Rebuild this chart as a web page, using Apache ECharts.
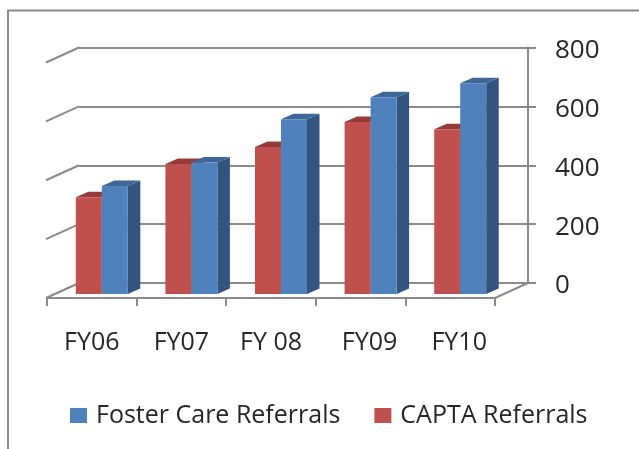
<!DOCTYPE html>
<html>
<head>
<meta charset="utf-8">
<title>Referrals</title>
<style>
  html, body { margin: 0; padding: 0; background: #fff; }
  #chart { width: 639px; height: 449px; }
</style>
<script src="https://cdn.jsdelivr.net/npm/echarts@6/dist/echarts.min.js"></script>
</head>
<body>
<div id="chart"></div>
<script>
const categories = ['FY06', 'FY07', 'FY 08', 'FY09', 'FY10']
const capta = [329, 442, 499, 584, 560]
const foster = [367, 447, 594, 668, 716]
const wallTicks = [0, 200, 400, 600, 800]

const FONT = '"Open Sans", sans-serif'
const TEXT = '#262626'
const LINE = '#8a8a8a'

// pixel offsets of the fake 3d look
const FLOOR_DX = -33
const FLOOR_DY = 15
const BAR_SHIFT_X = 10
const BAR_SHIFT_Y = -4
const BAR_DEPTH_X = 12.5
const BAR_DEPTH_Y = -5.5
const BAR_WIDTH = 26

function barRenderer(side, front, top, dark) {
  return function (params, api) {
    const base = api.coord([api.value(0), 0])
    const head = api.coord([api.value(0), api.value(1)])
    const x0 = base[0] + BAR_SHIFT_X + side * BAR_WIDTH
    const x1 = x0 + BAR_WIDTH
    const y0 = head[1] + BAR_SHIFT_Y
    const y1 = base[1] + BAR_SHIFT_Y
    return {
      type: 'group',
      children: [
        {
          type: 'polygon',
          shape: { points: [[x1, y0], [x1 + BAR_DEPTH_X, y0 + BAR_DEPTH_Y], [x1 + BAR_DEPTH_X, y1 + BAR_DEPTH_Y], [x1, y1]] },
          style: { fill: dark }
        },
        {
          type: 'polygon',
          shape: { points: [[x0, y0], [x0 + BAR_DEPTH_X, y0 + BAR_DEPTH_Y], [x1 + BAR_DEPTH_X, y0 + BAR_DEPTH_Y], [x1, y0]] },
          style: { fill: top }
        },
        {
          type: 'rect',
          shape: { x: x0, y: y0, width: BAR_WIDTH, height: y1 - y0 },
          style: { fill: front }
        }
      ]
    }
  }
}

// diagonal lines on the left wall and the right edge of the floor
function wallRenderer(params, api) {
  const v = api.value(1)
  const left = api.coord([0, v])
  const children = [{
    type: 'line',
    shape: { x1: left[0], y1: left[1], x2: left[0] + FLOOR_DX, y2: left[1] + FLOOR_DY },
    style: { stroke: LINE, lineWidth: 2 }
  }]
  if (v === 0) {
    const right = api.coord([1, v])
    children.push({
      type: 'line',
      shape: { x1: right[0], y1: right[1], x2: right[0] + FLOOR_DX, y2: right[1] + FLOOR_DY },
      style: { stroke: LINE, lineWidth: 2 }
    })
  }
  return { type: 'group', children }
}

const chart = echarts.init(document.getElementById('chart'))

chart.setOption({
  animation: false,
  backgroundColor: '#fff',
  textStyle: { fontFamily: FONT },
  graphic: [{
    type: 'polyline',
    shape: { points: [[8, 449], [8, 10.5], [639, 10.5]] },
    style: { stroke: LINE, lineWidth: 2, fill: null },
    silent: true
  }],
  legend: {
    left: 70,
    top: 403,
    padding: 0,
    icon: 'rect',
    itemWidth: 17,
    itemHeight: 15,
    itemGap: 34,
    data: ['Foster Care Referrals', 'CAPTA Referrals'],
    textStyle: { fontFamily: FONT, fontSize: 25, color: TEXT, padding: [0, 0, 0, 4] }
  },
  grid: [
    { left: 79, top: 47.5, width: 449, height: 235.5 },
    { left: 47, top: 62.5, width: 448, height: 235.5 }
  ],
  xAxis: [
    { gridIndex: 0, type: 'value', min: 0, max: 1, show: false },
    {
      gridIndex: 1,
      type: 'category',
      data: categories,
      axisLine: { lineStyle: { color: LINE, width: 2 } },
      axisTick: { show: true, interval: 0, length: 8, lineStyle: { color: LINE, width: 2 } },
      axisLabel: {
        interval: 0,
        hideOverlap: false,
        fontFamily: FONT,
        fontSize: 25,
        color: TEXT,
        margin: 32,
        // the last two labels sit a little right of their slots in the original
        formatter: (v, i) => (i > 2 ? '{late|' + v + '}' : v),
        rich: { late: { fontFamily: FONT, fontSize: 25, color: TEXT, padding: [0, 0, 0, 18] } }
      }
    }
  ],
  yAxis: [
    {
      gridIndex: 0,
      type: 'value',
      position: 'right',
      min: wallTicks[0],
      max: wallTicks[wallTicks.length - 1],
      interval: wallTicks[1] - wallTicks[0],
      axisLine: { show: true, onZero: false, lineStyle: { color: LINE, width: 2 } },
      axisTick: { show: true, length: 8, lineStyle: { color: LINE, width: 2 } },
      splitLine: { show: true, lineStyle: { color: LINE, width: 2 } },
      axisLabel: {
        fontFamily: FONT,
        fontSize: 26,
        color: TEXT,
        margin: 27,
        formatter: v => '{n|' + v + '}',
        rich: { n: { fontFamily: FONT, fontSize: 26, color: TEXT, padding: [6, 0, 0, 0] } }
      }
    },
    { gridIndex: 1, type: 'value', min: 0, max: 800, show: false }
  ],
  series: [
    {
      name: 'wall',
      type: 'custom',
      xAxisIndex: 0,
      yAxisIndex: 0,
      silent: true,
      renderItem: wallRenderer,
      encode: { x: 0, y: 1 },
      data: wallTicks.map(v => [0, v])
    },
    {
      name: 'CAPTA Referrals',
      type: 'custom',
      xAxisIndex: 1,
      yAxisIndex: 1,
      itemStyle: { color: '#c0504d' },
      renderItem: barRenderer(-1, '#c0504d', '#953c3a', '#8a3836'),
      encode: { x: 0, y: 1 },
      data: capta.map((v, i) => [i, v])
    },
    {
      name: 'Foster Care Referrals',
      type: 'custom',
      xAxisIndex: 1,
      yAxisIndex: 1,
      itemStyle: { color: '#4f81bd' },
      renderItem: barRenderer(0, '#4f81bd', '#3e6797', '#32547f'),
      encode: { x: 0, y: 1 },
      data: foster.map((v, i) => [i, v])
    }
  ]
})
</script>
</body>
</html>
